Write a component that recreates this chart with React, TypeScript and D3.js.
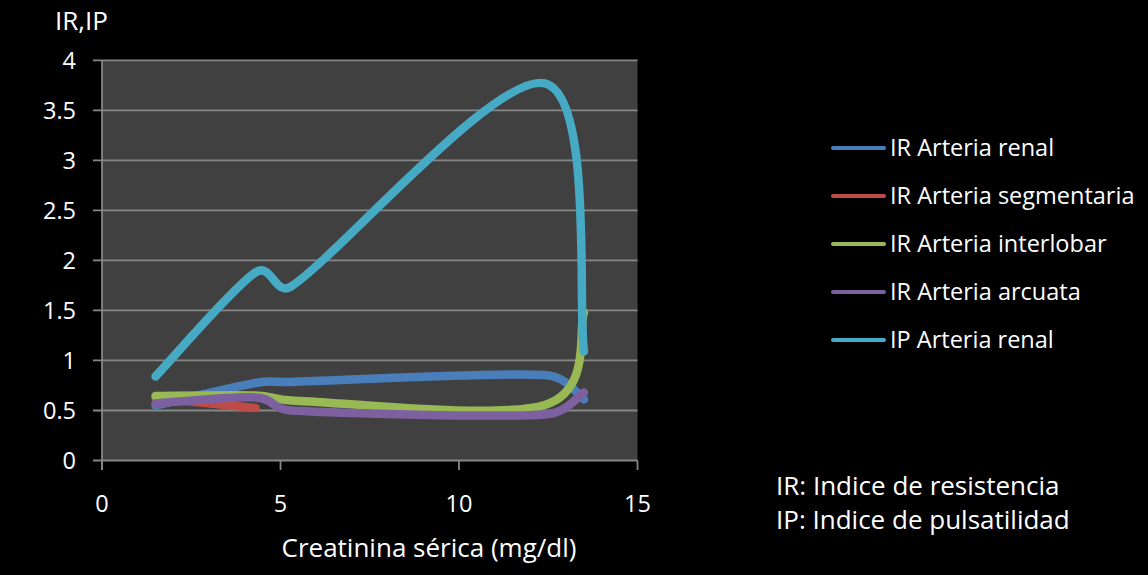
import React from "react";
import * as d3 from "d3";

const creatinine = [1.5, 4.3, 5.3, 12.4, 13.5];
const creatinineSeg = [1.5, 4.3];
const irRenal = [0.55, 0.775, 0.785, 0.855, 0.61];
const irSegmentaria = [0.625, 0.525];
const irInterlobar = [0.645, 0.65, 0.6, 0.555, 1.48];
const irArcuata = [0.57, 0.63, 0.5, 0.46, 0.68];
const ipRenal = [0.84, 1.88, 1.74, 3.77, 1.09];

const xTicks = [0, 5, 10, 15];
const yTicks = [0, 0.5, 1, 1.5, 2, 2.5, 3, 3.5, 4];
const yTickLabels = ["0", "0.5", "1", "1.5", "2", "2.5", "3", "3.5", "4"];

const seriesNames = [
  "IR Arteria renal",
  "IR Arteria segmentaria",
  "IR Arteria interlobar",
  "IR Arteria arcuata",
  "IP Arteria renal",
];
const seriesColors = ["#4a7ebb", "#be4b48", "#98b954", "#7d60a0", "#46aac5"];

const W = 1148;
const H = 575;
const FONT = "'Open Sans', sans-serif";

// Excel-like smoothed curve: Catmull-Rom style Bezier with tangent length capped
function excelCurve(context: any) {
  let pts: [number, number][] = [];
  return {
    areaStart() {},
    areaEnd() {},
    lineStart() {
      pts = [];
    },
    lineEnd() {
      const n = pts.length;
      if (n === 0) return;
      context.moveTo(pts[0][0], pts[0][1]);
      if (n === 1) return;
      const tangent = (i: number): [number, number] => {
        const a = pts[Math.max(0, i - 1)];
        const b = pts[Math.min(n - 1, i + 1)];
        return [b[0] - a[0], b[1] - a[1]];
      };
      for (let i = 0; i < n - 1; i++) {
        const p1 = pts[i];
        const p2 = pts[i + 1];
        const seg = Math.hypot(p2[0] - p1[0], p2[1] - p1[1]);
        const t1 = tangent(i);
        const t2 = tangent(i + 1);
        const l1 = Math.hypot(t1[0], t1[1]) || 1;
        const l2 = Math.hypot(t2[0], t2[1]) || 1;
        let f1 = 1 / 6;
        let f2 = 1 / 6;
        if (l1 * f1 > seg / 2) f1 = seg / 2 / l1;
        if (l2 * f2 > seg / 2) f2 = seg / 2 / l2;
        context.bezierCurveTo(
          p1[0] + t1[0] * f1,
          p1[1] + t1[1] * f1,
          p2[0] - t2[0] * f2,
          p2[1] - t2[1] * f2,
          p2[0],
          p2[1]
        );
      }
    },
    point(x: number, y: number) {
      pts.push([+x, +y]);
    },
  };
}

export default function App() {
  const x = d3.scaleLinear().domain([0, 15]).range([102, 637.5]);
  const y = d3.scaleLinear().domain([0, 4]).range([460.5, 60.3]);

  const line = d3
    .line<[number, number]>()
    .x((d) => x(d[0]))
    .y((d) => y(d[1]))
    .curve(excelCurve as any);

  const series = [
    { xs: creatinine, ys: irRenal },
    { xs: creatinineSeg, ys: irSegmentaria },
    { xs: creatinine, ys: irInterlobar },
    { xs: creatinine, ys: irArcuata },
    { xs: creatinine, ys: ipRenal },
  ];

  const legendY = [148, 196, 244, 292, 340];

  return (
    <svg
      width={W}
      height={H}
      style={{ position: "absolute", left: 0, top: 0, display: "block" }}
      fontFamily={FONT}
    >
      <rect x={0} y={0} width={W} height={H} fill="#000" />
      <rect
        x={x(0)}
        y={y(4)}
        width={x(15) - x(0)}
        height={y(0) - y(4)}
        fill="#404040"
      />
      {yTicks.map((t, i) => (
        <g key={"gy" + i}>
          <line
            x1={93}
            x2={x(15)}
            y1={y(t)}
            y2={y(t)}
            stroke="#868686"
            strokeWidth={1.8}
          />
          <text
            x={76}
            y={y(t)}
            dy="0.36em"
            textAnchor="end"
            fill="#fff"
            fontSize={23.5}
          >
            {yTickLabels[i]}
          </text>
        </g>
      ))}
      <line x1={x(0)} x2={x(0)} y1={y(4)} y2={470} stroke="#868686" strokeWidth={1.8} />
      {xTicks.map((t, i) => (
        <g key={"gx" + i}>
          <line x1={x(t)} x2={x(t)} y1={y(0)} y2={470} stroke="#868686" strokeWidth={1.8} />
          <text x={x(t)} y={512} textAnchor="middle" fill="#fff" fontSize={23.5}>
            {t}
          </text>
        </g>
      ))}
      {series.map((s, i) => {
        const pts: [number, number][] = s.xs.map((v, j) => [v, s.ys[j]]);
        return (
          <path
            key={"s" + i}
            d={line(pts) || ""}
            fill="none"
            stroke={seriesColors[i]}
            strokeWidth={8.5}
            strokeLinecap="round"
            strokeLinejoin="round"
          />
        );
      })}
      <text x={55} y={30} fill="#fff" fontSize={26}>
        IR,IP
      </text>
      <text x={429} y={557} textAnchor="middle" fill="#fff" fontSize={26}>
        Creatinina sérica (mg/dl)
      </text>
      {seriesNames.map((n, i) => (
        <g key={"l" + i}>
          <line
            x1={833}
            x2={884}
            y1={legendY[i]}
            y2={legendY[i]}
            stroke={seriesColors[i]}
            strokeWidth={4}
            strokeLinecap="round"
          />
          <text x={890} y={legendY[i]} dy="0.36em" fill="#fff" fontSize={23.5}>
            {n}
          </text>
        </g>
      ))}
      <text x={776} y={495} fill="#fff" fontSize={26}>
        IR: Indice de resistencia
      </text>
      <text x={776} y={529} fill="#fff" fontSize={26}>
        IP: Indice de pulsatilidad
      </text>
    </svg>
  );
}
